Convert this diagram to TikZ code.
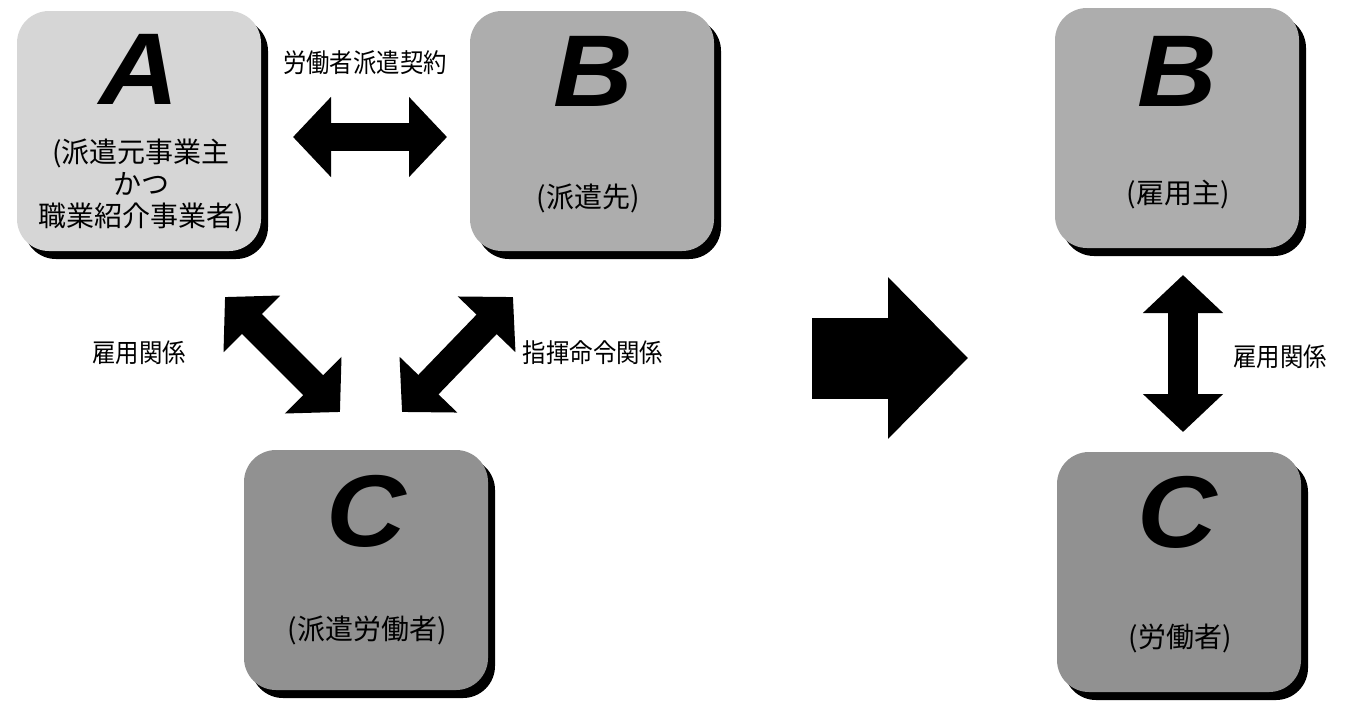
\documentclass[tikz,border=0pt]{standalone}
\usepackage{fontspec}
\newfontfamily\jp{Noto Sans CJK JP}
\newfontfamily\letterfont{Liberation Sans Bold Italic}
\usetikzlibrary{arrows.meta,shadows}
\definecolor{fillA}{gray}{0.84}
\definecolor{fillB}{gray}{0.68}
\definecolor{fillC}{gray}{0.57}
\tikzset{
  card/.style={rounded corners=32pt, minimum width=244pt, minimum height=240pt,
    inner sep=0pt, draw=none,
    drop shadow={shadow xshift=7pt, shadow yshift=-8pt, fill=black, opacity=1}},
  letter/.style={anchor=base, inner sep=0pt, xscale=1.08, font=\letterfont\fontsize{102}{102}\selectfont},
  boxtext/.style={align=center, inner sep=0pt, font=\jp\fontsize{28}{32}\selectfont},
  label/.style={inner sep=0pt, xscale=0.9, font=\jp\fontsize{26}{30}\selectfont},
  dbl/.style={line width=28pt, {Triangle[length=38pt,width=78pt]}-{Triangle[length=38pt,width=78pt]}},
  bigarrow/.style={line width=81pt, -{Triangle[length=80pt,width=157pt]}}
}
\begin{document}
\begin{tikzpicture}[x=1pt,y=-1pt]
\useasboundingbox (0,0) rectangle (1354,702);
% boxes
\node[card, fill=fillA] (A) at (139,131) {};
\node[card, fill=fillB] (B) at (592,131) {};
\node[card, fill=fillC] (C) at (366,570) {};
\node[card, fill=fillB] (B2) at (1177,128) {};
\node[card, fill=fillC] (C2) at (1179,572) {};
% letters
\node[letter] (Al) at (139,104) {A};
\node[letter] (Bl) at (593,106) {B};
\node[letter] (Cl) at (366,546) {C};
\node[letter] (B2l) at (1177,106) {B};
\node[letter] (C2l) at (1177,547) {C};
% box texts
\node[boxtext] (At) at (141,185) {(派遣元事業主\\かつ\\職業紹介事業者)};
\node[boxtext] (Bt) at (588,198) {(派遣先)};
\node[boxtext] (Ct) at (367,630) {(派遣労働者)};
\node[boxtext] (B2t) at (1178,195) {(雇用主)};
\node[boxtext] (C2t) at (1180,638) {(労働者)};
% labels
\node[label] (L1) at (365,63) {労働者派遣契約};
\node[label] (L2) at (139,353) {雇用関係};
\node[label] (L3) at (593,353) {指揮命令関係};
\node[label] (L4) at (1280,357) {雇用関係};
% arrow ends
\coordinate (h1) at (293,137);
\coordinate (h2) at (447,137);
\coordinate (d1a) at (225,297);
\coordinate (d1b) at (340,412);
\coordinate (d2a) at (402,412);
\coordinate (d2b) at (513,297);
\coordinate (v1) at (1183,275);
\coordinate (v2) at (1183,432);
\coordinate (r1) at (812,358);
\coordinate (r2) at (968,358);
\draw[dbl] (h1) -- (h2);
\draw[dbl] (d1a) -- (d1b);
\draw[dbl] (d2a) -- (d2b);
\draw[dbl, line width=30pt] (v1) -- (v2);
\draw[bigarrow] (r1) -- (r2);
\end{tikzpicture}
\end{document}
